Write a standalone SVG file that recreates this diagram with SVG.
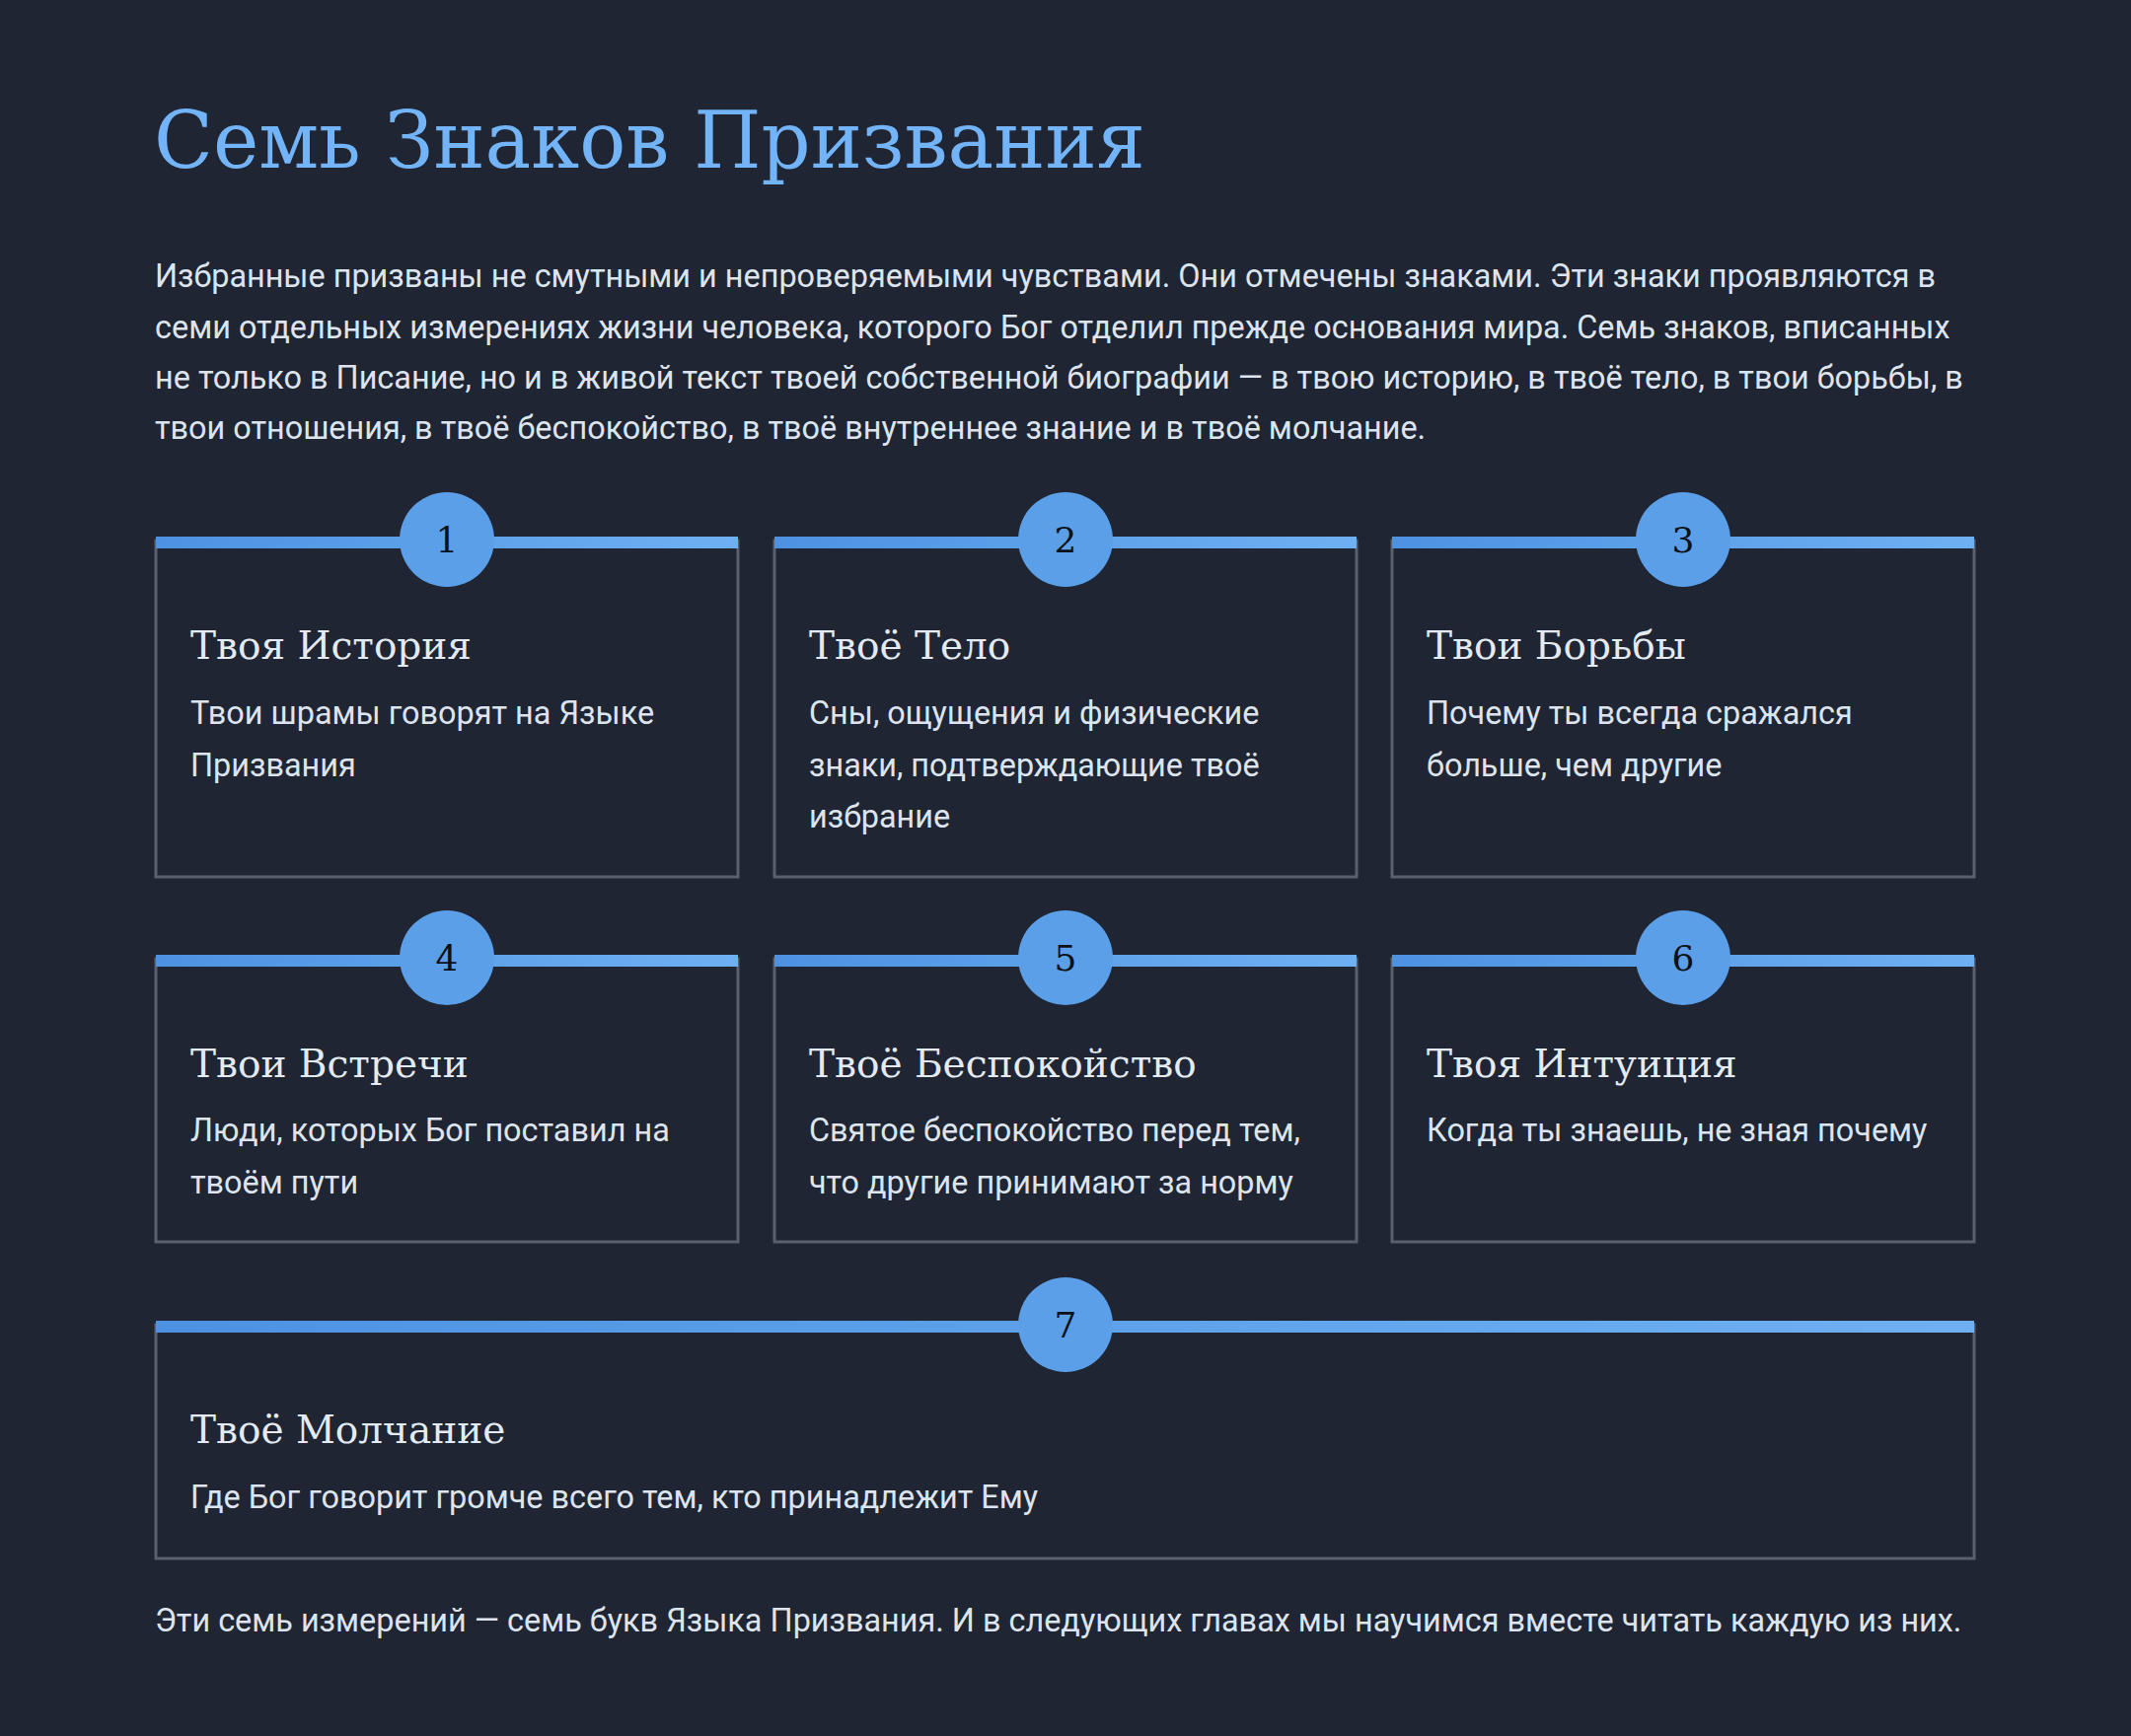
<svg xmlns="http://www.w3.org/2000/svg" width="2160" height="1760" viewBox="0 0 2160 1760">
<style>
.t{font-family:"Roboto Slab","DejaVu Serif","Liberation Serif",serif}
.s{font-family:Roboto,"Liberation Sans",sans-serif;fill:#dde4ee}
.card{fill:#1f2533;stroke:#5a606d;stroke-width:3}
.h{font-size:39px;fill:#e4eaf2}
.d{font-size:32.4px}
.num{font-size:36px;fill:#0d1117;text-anchor:middle}
.circ{fill:#5b9fe8}
</style>
<defs>
<linearGradient id="bar" x1="0" x2="1" y1="0" y2="0"><stop offset="0" stop-color="#4d92e2"/><stop offset="1" stop-color="#6fb0f2"/></linearGradient>
</defs>
<rect width="2160" height="1760" fill="#1f2533"/>
<text class="t" x="156" y="170" font-size="80" fill="#72b4f7" textLength="1005" lengthAdjust="spacingAndGlyphs">Семь Знаков Призвания</text>
<g class="s" font-size="32.4">
<text x="157" y="291">Избранные призваны не смутными и непроверяемыми чувствами. Они отмечены знаками. Эти знаки проявляются в</text>
<text x="157" y="343">семи отдельных измерениях жизни человека, которого Бог отделил прежде основания мира. Семь знаков, вписанных</text>
<text x="157" y="394">не только в Писание, но и в живой текст твоей собственной биографии — в твою историю, в твоё тело, в твои борьбы, в</text>
<text x="157" y="445">твои отношения, в твоё беспокойство, в твоё внутреннее знание и в твоё молчание.</text>
</g>
<g id="card1"><rect class="card" x="158" y="548" width="590" height="341"/><rect x="158" y="544" width="590" height="12" fill="url(#bar)"/><circle class="circ" cx="453" cy="547" r="48"/><text class="t num" x="453" y="560">1</text>
<text class="t h" x="193" y="668">Твоя История</text><g class="s d"><text x="193" y="734">Твои шрамы говорят на Языке</text><text x="193" y="787">Призвания</text></g></g>
<g id="card2"><rect class="card" x="785" y="548" width="590" height="341"/><rect x="785" y="544" width="590" height="12" fill="url(#bar)"/><circle class="circ" cx="1080" cy="547" r="48"/><text class="t num" x="1080" y="560">2</text>
<text class="t h" x="820" y="668">Твоё Тело</text><g class="s d"><text x="820" y="734">Сны, ощущения и физические</text><text x="820" y="787">знаки, подтверждающие твоё</text><text x="820" y="839">избрание</text></g></g>
<g id="card3"><rect class="card" x="1411" y="548" width="590" height="341"/><rect x="1411" y="544" width="590" height="12" fill="url(#bar)"/><circle class="circ" cx="1706" cy="547" r="48"/><text class="t num" x="1706" y="560">3</text>
<text class="t h" x="1446" y="668">Твои Борьбы</text><g class="s d"><text x="1446" y="734">Почему ты всегда сражался</text><text x="1446" y="787">больше, чем другие</text></g></g>
<g id="card4"><rect class="card" x="158" y="972" width="590" height="287"/><rect x="158" y="968" width="590" height="12" fill="url(#bar)"/><circle class="circ" cx="453" cy="971" r="48"/><text class="t num" x="453" y="984">4</text>
<text class="t h" x="193" y="1092">Твои Встречи</text><g class="s d"><text x="193" y="1157">Люди, которых Бог поставил на</text><text x="193" y="1210">твоём пути</text></g></g>
<g id="card5"><rect class="card" x="785" y="972" width="590" height="287"/><rect x="785" y="968" width="590" height="12" fill="url(#bar)"/><circle class="circ" cx="1080" cy="971" r="48"/><text class="t num" x="1080" y="984">5</text>
<text class="t h" x="820" y="1092">Твоё Беспокойство</text><g class="s d"><text x="820" y="1157">Святое беспокойство перед тем,</text><text x="820" y="1210">что другие принимают за норму</text></g></g>
<g id="card6"><rect class="card" x="1411" y="972" width="590" height="287"/><rect x="1411" y="968" width="590" height="12" fill="url(#bar)"/><circle class="circ" cx="1706" cy="971" r="48"/><text class="t num" x="1706" y="984">6</text>
<text class="t h" x="1446" y="1092">Твоя Интуиция</text><g class="s d"><text x="1446" y="1157">Когда ты знаешь, не зная почему</text></g></g>
<g id="card7"><rect class="card" x="158" y="1343" width="1843" height="237"/><rect x="158" y="1339" width="1843" height="12" fill="url(#bar)"/><circle class="circ" cx="1080" cy="1343" r="48"/><text class="t num" x="1080" y="1356">7</text>
<text class="t h" x="193" y="1463">Твоё Молчание</text><g class="s d"><text x="193" y="1529">Где Бог говорит громче всего тем, кто принадлежит Ему</text></g></g>
<g id="connectors"/>
<text class="s" x="157" y="1654" font-size="32.4">Эти семь измерений — семь букв Языка Призвания. И в следующих главах мы научимся вместе читать каждую из них.</text>
</svg>
